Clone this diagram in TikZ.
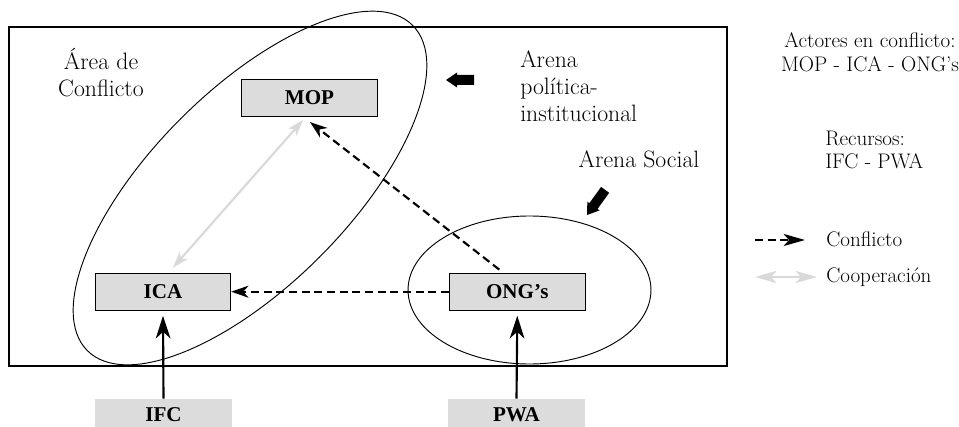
\documentclass[tikz,border=0pt]{standalone}
\usepackage{fontspec}
\newfontfamily\boxfont{Liberation Serif}
\usetikzlibrary{arrows.meta,calc}
\definecolor{boxgray}{HTML}{DCDCDC}
\definecolor{coopgray}{HTML}{D9D9D9}
\tikzset{
  actor/.style={draw=black, line width=0.6pt, fill=boxgray, minimum width=101.7pt, minimum height=28pt, inner sep=0pt, font=\boxfont\bfseries\fontsize{15.8}{18}\selectfont},
  resource/.style={fill=boxgray, minimum width=102.7pt, minimum height=24pt, inner sep=0pt, font=\boxfont\bfseries\fontsize{15.8}{18}\selectfont},
  conflict/.style={line width=1.6pt, dash pattern=on 6pt off 3.5pt, -{Stealth[length=13pt,width=9pt,inset=4pt]}},
  coop/.style={draw=coopgray, line width=1.6pt, {Stealth[length=12pt,width=8pt,inset=3pt]}-{Stealth[length=12pt,width=8pt,inset=3pt]}},
  coopkey/.style={draw=coopgray, line width=1.8pt, {Stealth[length=16pt,width=9pt,inset=4pt]}-{Stealth[length=16pt,width=9pt,inset=4pt]}},
  force/.style={line width=1.6pt, -{Stealth[length=17pt,width=11pt,inset=5pt]}},
  lbl/.style={font=\fontsize{17.8}{21}\selectfont, inner sep=0pt},
  side/.style={font=\fontsize{15.8}{19}\selectfont, inner sep=0pt},
  arena/.style={line width=0.7pt},
  blockarrow/.style={fill=black},
}
\begin{document}
\begin{tikzpicture}[x=0.75pt, y=-0.75pt]
\useasboundingbox (0,0) rectangle (959,427);
\clip (0,0) rectangle (959,427);
% frame
\draw[line width=1pt] (9,27) rectangle (727,366);
% arenas
\draw[arena, rotate around={45:(250,188)}] (250,188) ellipse [x radius=172.5pt, y radius=73.5pt];
\draw[arena] (529.5,290) ellipse [x radius=91.1pt, y radius=55.5pt];
% boxes
\node[actor] (MOP) at (309.5,98) {MOP};
\node[actor] (ICA) at (163,291.7) {ICA};
\node[actor] (ONG) at (517.3,291.7) {ONG’s};
\node[resource] (IFC) at (163.5,415) {IFC};
\node[resource] (PWA) at (516.5,415) {PWA};
% connectors
\draw[conflict] (ONG.west) -- (ICA.east);
\draw[conflict] ($(ONG.north)+(-18,-3)$) -- ($(MOP.south)+(0.5,5)$);
\draw[coop] ($(ICA.north)+(10,-5)$) -- ($(MOP.south)+(-6.5,3)$);
\draw[force] (IFC.north) -- ($(ICA.south)+(0,5)$);
\draw[force] (PWA.north) -- ($(ONG.south)+(0,5)$);
% block arrows
\fill[blockarrow] (446,80) -- ++(11,-7.5) -- ++(0,2.5) -- ++(17,0) -- ++(0,10) -- ++(-17,0) -- ++(0,2.5) -- cycle;
\fill[blockarrow, shift={(587,215)}, rotate=54.2] (0,0) -- (11,7.5) -- (11,5) -- (31,5) -- (31,-5) -- (11,-5) -- (11,-7.5) -- cycle;
% labels
\node[lbl, anchor=base] (area1) at (101,70) {Área de};
\node[lbl, anchor=base] (area2) at (101,97) {Conflicto};
\node[lbl, anchor=base west] (ar1) at (520,68) {Arena};
\node[lbl, anchor=base west] (ar2) at (520,95) {política-};
\node[lbl, anchor=base west] (ar3) at (520,122) {institucional};
\node[lbl, anchor=base] (soc) at (639,168) {Arena Social};
\node[side, anchor=base] (act1) at (870,48) {Actores en conflicto:};
\node[side, anchor=base] (act2) at (870,72) {MOP - ICA - ONG's};
\node[side, anchor=base west] (rec1) at (825,146) {Recursos:};
\node[side, anchor=base west] (rec2) at (825,169) {IFC - PWA};
% legend
\coordinate (c1) at (755,240);
\coordinate (c2) at (805,240);
\coordinate (k1) at (755,277);
\coordinate (k2) at (817,277);
\draw[conflict, -{Stealth[length=16pt,width=9pt,inset=4pt]}] (c1) -- (c2);
\draw[coopkey] (k1) -- (k2);
\node[side, anchor=base west] (lc) at (826,247) {Conflicto};
\node[side, anchor=base west] (lk) at (826,283) {Cooperación};
\end{tikzpicture}
\end{document}
